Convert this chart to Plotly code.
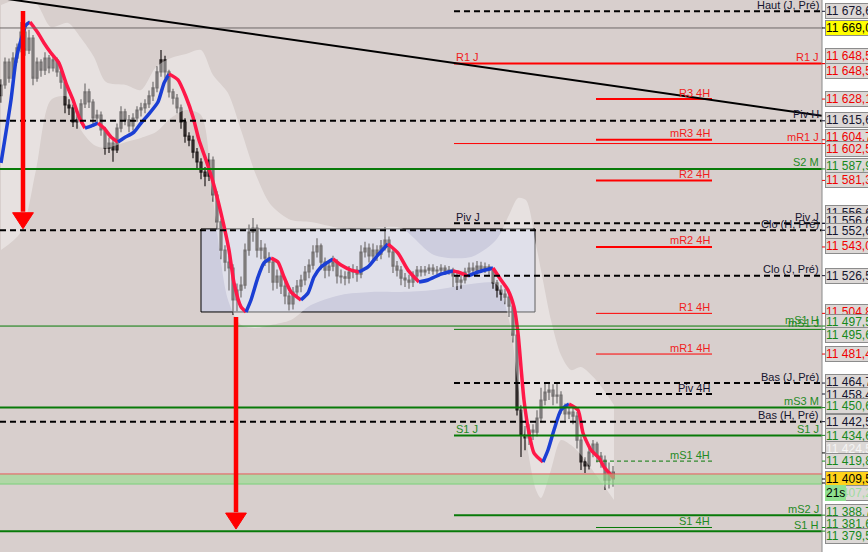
import plotly.graph_objects as go

# ---------------- data ----------------
closes = [11636.2, 11649.4, 11640.2, 11651.7, 11657.5, 11666.7, 11656.3, 11663.2, 11640.2, 11649.4,
          11644.8, 11651.7, 11646.0, 11650.6, 11643.7, 11637.9, 11624.7, 11623.0, 11614.9, 11616.1,
          11625.3, 11632.2, 11626.4, 11617.2, 11618.9, 11610.3, 11599.9, 11602.8, 11598.8, 11611.4,
          11620.7, 11616.1, 11612.6, 11617.2, 11621.8, 11623.0, 11625.3, 11629.9, 11634.5, 11643.7,
          11650.6, 11643.7, 11632.2, 11628.7, 11623.0, 11614.9, 11606.8, 11604.5, 11597.6, 11591.9,
          11586.1, 11583.8, 11593.0, 11572.9, 11557.4, 11541.2, 11534.3, 11530.9, 11512.5, 11518.2,
          11521.1, 11541.2, 11551.6, 11553.9, 11541.2, 11542.4, 11536.6, 11534.3, 11522.8, 11526.3,
          11520.5, 11514.8, 11510.2, 11517.1, 11520.5, 11524.0, 11528.6, 11532.6, 11540.1, 11543.6,
          11534.3, 11529.7, 11532.0, 11534.3, 11526.3, 11525.8, 11525.1, 11528.6, 11529.7, 11527.4,
          11540.1, 11542.4, 11537.8, 11541.2, 11538.9, 11543.6, 11547.0, 11540.1, 11532.0, 11529.7,
          11525.1, 11524.0, 11522.8, 11526.3, 11529.7, 11528.6, 11529.7, 11530.9, 11529.2, 11529.7,
          11530.9, 11529.2, 11529.7, 11526.3, 11522.8, 11524.0, 11528.6, 11530.9, 11529.7, 11532.0,
          11530.3, 11531.5, 11529.7, 11522.3, 11518.2, 11515.9, 11514.2, 11509.0, 11492.3, 11449.2,
          11434.8, 11433.1, 11437.7, 11436.5, 11444.6, 11454.9, 11459.5, 11460.7, 11457.2, 11457.8,
          11450.3, 11446.9, 11448.0, 11445.7, 11431.9, 11419.3, 11417.0, 11425.0, 11429.6, 11422.7,
          11420.4, 11408.9, 11413.5, 11409.5]

opens = [11630.0, 11636.2, 11649.4, 11640.2, 11651.7, 11657.5, 11666.7, 11656.3, 11663.2, 11640.2,
         11649.4, 11644.8, 11651.7, 11646.0, 11650.6, 11643.7, 11637.9, 11624.7, 11623.0, 11614.9,
         11616.1, 11625.3, 11632.2, 11626.4, 11617.2, 11618.9, 11610.3, 11599.9, 11602.8, 11598.8,
         11611.4, 11620.7, 11616.1, 11612.6, 11617.2, 11621.8, 11623.0, 11625.3, 11629.9, 11634.5,
         11643.7, 11650.6, 11643.7, 11632.2, 11628.7, 11623.0, 11614.9, 11606.8, 11604.5, 11597.6,
         11591.9, 11586.1, 11583.8, 11593.0, 11572.9, 11557.4, 11541.2, 11534.3, 11530.9, 11512.5,
         11518.2, 11521.1, 11541.2, 11551.6, 11553.9, 11541.2, 11542.4, 11536.6, 11534.3, 11522.8,
         11526.3, 11520.5, 11514.8, 11510.2, 11517.1, 11520.5, 11524.0, 11528.6, 11532.6, 11540.1,
         11543.6, 11534.3, 11529.7, 11532.0, 11534.3, 11526.3, 11525.8, 11525.1, 11528.6, 11529.7,
         11527.4, 11540.1, 11542.4, 11537.8, 11541.2, 11538.9, 11543.6, 11547.0, 11540.1, 11532.0,
         11529.7, 11525.1, 11524.0, 11522.8, 11526.3, 11529.7, 11528.6, 11529.7, 11530.9, 11529.2,
         11529.7, 11530.9, 11529.2, 11529.7, 11526.3, 11522.8, 11524.0, 11528.6, 11530.9, 11529.7,
         11532.0, 11530.3, 11531.5, 11529.7, 11522.3, 11518.2, 11515.9, 11514.2, 11509.0, 11492.3,
         11449.2, 11434.8, 11433.1, 11437.7, 11436.5, 11444.6, 11454.9, 11459.5, 11460.7, 11457.2,
         11457.8, 11450.3, 11446.9, 11448.0, 11445.7, 11431.9, 11419.3, 11417.0, 11425.0, 11429.6,
         11422.7, 11420.4, 11408.9, 11413.5]

highs = [11639.5, 11652.0, 11651.5, 11655.0, 11660.0, 11672.4, 11670.0, 11668.0, 11665.0, 11652.0,
         11651.0, 11655.0, 11653.5, 11653.0, 11652.0, 11646.0, 11640.0, 11628.0, 11625.0, 11619.0,
         11628.0, 11637.0, 11634.0, 11628.0, 11622.0, 11621.0, 11612.0, 11606.0, 11605.0, 11614.0,
         11624.0, 11622.5, 11619.0, 11620.0, 11624.0, 11626.0, 11628.0, 11633.0, 11638.0, 11647.0,
         11656.3, 11653.0, 11645.0, 11634.0, 11631.0, 11625.0, 11617.0, 11609.0, 11607.0, 11600.0,
         11594.0, 11589.0, 11597.0, 11595.0, 11575.0, 11559.0, 11544.0, 11538.0, 11533.0, 11522.0,
         11526.0, 11545.0, 11556.0, 11559.7, 11556.0, 11547.0, 11545.0, 11540.0, 11537.0, 11530.0,
         11529.0, 11523.0, 11517.0, 11520.0, 11524.0, 11527.0, 11532.0, 11536.0, 11544.0, 11548.0,
         11545.0, 11537.0, 11535.0, 11538.0, 11536.0, 11530.0, 11529.0, 11532.0, 11533.0, 11532.0,
         11544.0, 11546.0, 11545.0, 11545.0, 11544.0, 11547.0, 11554.5, 11549.0, 11542.0, 11535.0,
         11532.0, 11528.0, 11527.0, 11529.0, 11532.0, 11532.0, 11532.0, 11533.0, 11533.0, 11532.0,
         11533.0, 11532.5, 11532.0, 11531.0, 11528.0, 11527.0, 11531.0, 11534.0, 11534.0, 11535.0,
         11534.5, 11534.0, 11533.0, 11531.0, 11524.0, 11521.0, 11519.0, 11517.0, 11511.0, 11494.0,
         11452.0, 11440.0, 11441.0, 11441.0, 11449.0, 11462.0, 11465.3, 11465.3, 11464.0, 11465.0,
         11460.0, 11453.0, 11452.0, 11451.0, 11448.0, 11434.0, 11422.0, 11428.0, 11432.0, 11431.0,
         11425.0, 11423.0, 11419.0, 11417.0]

lows = [11626.0, 11634.0, 11637.5, 11638.0, 11649.0, 11655.0, 11653.0, 11654.0, 11636.0, 11638.0,
        11641.0, 11642.0, 11643.0, 11644.0, 11641.0, 11634.0, 11620.0, 11619.0, 11612.0, 11611.0,
        11614.0, 11623.0, 11623.0, 11612.0, 11614.0, 11607.0, 11596.0, 11597.0, 11592.0, 11597.0,
        11609.0, 11613.0, 11609.0, 11610.0, 11615.0, 11618.0, 11620.0, 11623.0, 11627.0, 11632.0,
        11641.0, 11640.0, 11629.0, 11625.0, 11620.0, 11611.0, 11603.0, 11601.0, 11594.0, 11588.0,
        11582.0, 11578.0, 11581.0, 11569.0, 11553.0, 11536.0, 11529.0, 11518.0, 11503.9, 11506.0,
        11514.0, 11519.0, 11538.0, 11546.0, 11537.0, 11536.0, 11532.0, 11528.0, 11518.0, 11519.0,
        11516.0, 11510.0, 11506.5, 11507.0, 11514.0, 11517.0, 11521.0, 11525.0, 11530.0, 11537.0,
        11530.0, 11525.0, 11526.0, 11529.0, 11522.0, 11522.0, 11521.0, 11522.0, 11525.0, 11523.0,
        11525.0, 11537.0, 11534.0, 11535.0, 11535.0, 11536.0, 11541.0, 11537.0, 11528.0, 11526.0,
        11521.0, 11520.0, 11519.0, 11520.0, 11524.0, 11526.0, 11526.5, 11527.5, 11527.0, 11527.0,
        11528.0, 11527.0, 11527.0, 11520.0, 11518.2, 11519.0, 11522.0, 11526.0, 11527.0, 11527.0,
        11528.0, 11528.0, 11527.0, 11519.0, 11514.0, 11512.0, 11510.0, 11502.7, 11488.0, 11446.0,
        11422.1, 11426.0, 11429.0, 11432.0, 11434.0, 11442.0, 11452.0, 11455.0, 11452.0, 11453.0,
        11447.0, 11443.0, 11444.0, 11441.0, 11427.0, 11414.7, 11413.0, 11415.0, 11422.0, 11419.0,
        11416.0, 11403.2, 11404.0, 11405.0]

# smoothed moving average (bar index, price)
ma_bars = [0, 2.5, 3.75, 5, 6.25, 7.25, 9.25, 10.75, 12.5, 14.5, 16.25, 18, 19.5, 21, 22.5, 24.25,
           25.75, 27.5, 29.25, 30.75, 33.25, 35, 36.75, 39.25, 40.75, 42, 44.25, 46.25, 48, 49.5,
           51.25, 53, 55, 57, 58.25, 60, 61.25, 62.5, 64.25, 65.75, 67.5, 69.25, 70.75, 72.5, 75,
           76.75, 78.25, 80, 81.75, 83, 85, 87.5, 89.5, 91.75, 94.25, 96.75, 99.25, 101.75, 104.5,
           106.75, 110, 113, 114.25, 116.75, 119.25, 123, 125, 126.75, 128.25, 129.25, 130, 130.75,
           132, 133.25, 135.5, 136.75, 138.25, 140, 142, 144.25, 145.5, 147.5, 149.5, 150.75, 152.5,
           153.25]
ma_values = [11591.3, 11627.6, 11650.6, 11662.1, 11670.7, 11672.4, 11666.1, 11660.4, 11654.6, 11648.8,
             11637.3, 11627.6, 11617.8, 11611.4, 11612.6, 11614.3, 11611.4, 11606.3, 11603.4, 11605.7,
             11609.1, 11614.3, 11618.9, 11626.4, 11637.3, 11642.5, 11639.1, 11629.3, 11617.8, 11604.5,
             11593.0, 11580.4, 11562.5, 11541.2, 11522.3, 11508.5, 11505.6, 11512.5, 11525.7, 11533.8,
             11536.6, 11534.3, 11525.7, 11517.1, 11512.5, 11516.5, 11525.7, 11531.5, 11534.3, 11536.1,
             11532.6, 11529.7, 11528.6, 11531.5, 11538.4, 11544.7, 11539.5, 11529.7, 11522.8, 11524.0,
             11527.4, 11529.2, 11528.6, 11526.3, 11528.6, 11530.9, 11524.0, 11518.2, 11508.5, 11493.5,
             11473.9, 11454.9, 11436.0, 11424.4, 11419.3, 11426.2, 11437.7, 11449.2, 11452.6, 11449.2,
             11436.0, 11426.2, 11421.6, 11416.4, 11411.8, 11410.1]

# volatility envelope
env_bars = [0, 5, 8.75, 12.5, 16.75, 20, 23.25, 26.25, 31.25, 35, 38.75, 42.5, 46.25, 50, 53, 56.75,
            60, 63.75, 67.5, 72.5, 77.5, 85, 92.5, 100, 108.25, 117.5, 123.75, 127, 129.25, 131.25,
            133.75, 135, 137.5, 140, 142.5, 145, 148.75, 153.25]
env_upper = [11682.2, 11686.0, 11683.4, 11669.6, 11671.9, 11663.2, 11652.3, 11637.9, 11636.2, 11633.3,
             11646.5, 11651.7, 11654.0, 11656.3, 11642.0, 11631.6, 11610.3, 11584.4, 11567.1, 11558.5,
             11557.4, 11553.9, 11553.9, 11553.9, 11538.4, 11537.2, 11547.0, 11561.4, 11571.2, 11570.0,
             11544.1, 11529.7, 11501.0, 11480.8, 11472.2, 11473.9, 11466.5, 11452.1]
env_lower = [11541.2, 11551.6, 11587.3, 11627.6, 11629.3, 11610.3, 11601.7, 11600.0, 11603.4, 11605.7,
             11609.1, 11617.2, 11621.8, 11618.9, 11570.0, 11512.5, 11498.1, 11496.4, 11498.1, 11501.0,
             11509.6, 11515.4, 11517.1, 11517.1, 11518.2, 11521.7, 11521.7, 11501.0, 11463.6, 11431.9,
             11403.2, 11398.6, 11414.7, 11431.9, 11429.0, 11423.3, 11411.8, 11397.4]

# pivot / support / resistance levels
level_names = ["Haut (J, Pré)", "R1 J", "R3 4H", "Piv H", "mR3 4H", "mR1 J", "S2 M", "R2 4H",
               "Piv J", "Clo (H, Pré)", "mR2 4H", "Clo (J, Pré)", "R1 4H", "mS1 H", "mS1 J",
               "mR1 4H", "Bas (J, Pré)", "Piv 4H", "mS3 M", "Bas (H, Pré)", "S1 J", "mS1 4H",
               "mS2 J", "S1 4H", "S1 H"]
level_prices = [11678.6, 11648.5, 11628.1, 11615.6, 11604.7, 11602.5, 11587.9, 11581.3,
                11556.6, 11552.6, 11543.0, 11526.5, 11504.8, 11497.5, 11495.6,
                11481.4, 11464.7, 11458.4, 11450.6, 11442.5, 11434.6, 11419.8,
                11388.7, 11381.6, 11379.5]
level_scopes = ["J", "J", "4H", "H", "4H", "J", "H", "4H",
                "J", "H", "4H", "J", "4H", "H", "J",
                "4H", "J", "4H", "H", "H", "J", "4H",
                "J", "4H", "H"]
left_labelled = ["R1 J", "Piv J", "S1 J"]

session_high = 11669.0
ask_price = 11412.4
bid_band_low = 11406.6
last_price = 11409.5
countdown = "21s"

# price-axis labels (price, colour key), drawn top to bottom
axis_label_prices = [11678.6, 11669.0, 11648.5, 11648.5, 11628.1, 11615.6, 11604.7, 11602.5, 11587.9,
                     11581.3, 11556.6, 11556.6, 11552.6, 11543.0, 11526.5, 11504.8, 11497.5, 11495.6,
                     11481.4, 11464.7, 11458.4, 11450.6, 11442.5, 11434.6, 11424.5, 11419.8, 11409.5,
                     11407.2, 11388.7, 11381.6, 11379.5]
axis_label_kinds = ["k", "hi", "r", "r", "r", "k", "r", "r", "g",
                    "r", "k", "k", "k", "r", "k", "r", "g", "g",
                    "r", "k", "k", "g", "k", "g", "w", "g", "last",
                    "lg", "g", "g", "g"]

# drawings
trend_bars = [-0.25, 205.25]
trend_prices = [11686.3, 11618.5]
box_bars = [50.0, 133.5]
box_prices = [11505.6, 11553.4]
arrow_bars = [5.5, 58.75]
arrow_tops = [11678.8, 11502.7]
arrow_tips = [11553.5, 11380.7]

# ---------------- styling / layout constants ----------------
X_RANGE = [-0.25, 205.25]
Y_RANGE = [11367.5, 11685.1]
PLOT_W, PLOT_H = 822, 552
PX_PER_PT = PLOT_H / (Y_RANGE[1] - Y_RANGE[0])
SCOPE_X = {"H": (-0.25, 205.25), "J": (113.25, 205.25), "4H": (148.75, 177.75)}
FONT = "Liberation Sans"
RED, GREEN, BLACK = "#ff0000", "#087a08", "#000000"
RED_T, GREEN_T, BLACK_T = "#f01c1c", "#1f8a1f", "#14142e"

line_style = {
    "Haut (J, Pré)": (BLACK, 2, "6px,4px"), "R1 J": (RED, 2, "solid"), "R3 4H": (RED, 2, "solid"),
    "Piv H": (BLACK, 2, "6px,4px"), "mR3 4H": (RED, 2, "solid"), "mR1 J": (RED, 1, "solid"),
    "S2 M": (GREEN, 2, "solid"), "R2 4H": (RED, 2, "solid"), "Piv J": (BLACK, 2, "6px,4px"),
    "Clo (H, Pré)": (BLACK, 2, "6px,4px"), "mR2 4H": (RED, 2, "solid"),
    "Clo (J, Pré)": (BLACK, 2, "6px,4px"), "R1 4H": (RED, 1, "solid"), "mS1 H": (GREEN, 1, "solid"),
    "mS1 J": (GREEN, 1, "solid"), "mR1 4H": (RED, 1, "solid"), "Bas (J, Pré)": (BLACK, 2, "6px,4px"),
    "Piv 4H": (BLACK, 2, "6px,4px"), "mS3 M": (GREEN, 2, "solid"), "Bas (H, Pré)": (BLACK, 2, "6px,4px"),
    "S1 J": (GREEN, 2, "solid"), "mS1 4H": (GREEN, 1, "4px,3px"), "mS2 J": (GREEN, 2, "solid"),
    "S1 4H": (GREEN, 1, "solid"), "S1 H": (GREEN, 2, "solid"),
}
text_color = {RED: RED_T, GREEN: GREEN_T, BLACK: BLACK_T}

# pixel offsets of stacked price-axis labels (layout only)
axis_label_offsets = [0, 0, 8, -7, 0, 1, 3, -5, 3,
                      0, 10, 2, -1, 1, 0, 1, 4, -6,
                      0, 1, -1, 2, 0, -1, 4, 0, 0,
                      -10, 3, 3, -5]
kind_style = {
    "k": ("#dcd8d6", BLACK_T), "r": ("#dcd8d6", "#f00000"), "g": ("#dcd8d6", "#16881a"),
    "w": ("#dcd8d6", "#f4f4f4"), "lg": ("#dcd8d6", "#9edc9e"),
    "hi": ("#ffff00", "#000000"), "last": ("#ffd21a", "#000000"),
}
LABEL_YSHIFT = -1.5

fig = go.Figure()

# envelope
fig.add_trace(go.Scatter(x=env_bars, y=env_upper, mode="lines",
                         line=dict(width=0, shape="spline", smoothing=0.8), hoverinfo="skip"))
fig.add_trace(go.Scatter(x=env_bars, y=env_lower, mode="lines",
                         line=dict(width=0, shape="spline", smoothing=0.8), fill="tonexty",
                         fillcolor="rgba(255,255,255,0.38)", hoverinfo="skip"))

# candles
bars = list(range(len(closes)))
fig.add_trace(go.Candlestick(
    x=bars, open=opens, high=highs, low=lows, close=closes,
    increasing=dict(line=dict(color="#1e1919", width=1.2), fillcolor="#4e4646"),
    decreasing=dict(line=dict(color="#1e1919", width=1.2), fillcolor="#4e4646"),
    whiskerwidth=0, hoverinfo="skip"))

# moving average coloured by direction
segments = []
cur = [0]
cur_up = None
for i in range(1, len(ma_values)):
    up = ma_values[i] >= ma_values[i - 1]
    if cur_up is None or up == cur_up:
        cur.append(i)
        cur_up = up
    else:
        segments.append((cur_up, cur))
        cur = [i - 1, i]
        cur_up = up
segments.append((cur_up, cur))
for up, idx in segments:
    fig.add_trace(go.Scatter(
        x=[ma_bars[i] for i in idx], y=[ma_values[i] for i in idx], mode="lines",
        line=dict(color="#1b3fd4" if up else "#ff1848", width=3.5, shape="spline", smoothing=0.6),
        hoverinfo="skip"))

shapes = []
annotations = []

# rectangle (range box)
shapes.append(dict(type="rect", xref="x", yref="y", x0=box_bars[0], x1=box_bars[1],
                   y0=box_prices[0], y1=box_prices[1], layer="below",
                   fillcolor="rgba(196,204,236,0.55)", line=dict(color="#000000", width=1)))

# session high / ask line / bid band
shapes.append(dict(type="line", xref="paper", yref="y", x0=0, x1=1, y0=session_high, y1=session_high,
                   line=dict(color="#6e6868", width=1)))
shapes.append(dict(type="rect", xref="paper", yref="y", x0=0, x1=1, y0=bid_band_low, y1=ask_price,
                   fillcolor="rgba(150,220,140,0.6)", line=dict(width=0)))
shapes.append(dict(type="line", xref="paper", yref="y", x0=0, x1=1, y0=ask_price, y1=ask_price,
                   line=dict(color="#e85a5a", width=1)))
shapes.append(dict(type="line", xref="paper", yref="y", x0=0, x1=1, y0=bid_band_low, y1=bid_band_low,
                   line=dict(color="#7ad07a", width=1)))

# levels
for name, price, scope in zip(level_names, level_prices, level_scopes):
    col, w, dash = line_style[name]
    x0, x1 = SCOPE_X[scope]
    shapes.append(dict(type="line", xref="x", yref="y", x0=x0, x1=x1, y0=price, y1=price,
                       line=dict(color=col, width=w, dash=dash)))
    tcol = text_color[col]
    if scope == "4H":
        annotations.append(dict(x=x1, y=price, xref="x", yref="y", xanchor="right", yanchor="bottom",
                                yshift=LABEL_YSHIFT, text=name, showarrow=False,
                                font=dict(family=FONT, size=11, color=tcol)))
    else:
        annotations.append(dict(x=1, y=price, xref="paper", yref="y", xanchor="right", yanchor="bottom",
                                xshift=-1, yshift=LABEL_YSHIFT, text=name, showarrow=False,
                                font=dict(family=FONT, size=11, color=tcol)))
        if name in left_labelled:
            annotations.append(dict(x=x0, y=price, xref="x", yref="y", xanchor="left", yanchor="bottom",
                                    yshift=LABEL_YSHIFT, text=name, showarrow=False,
                                    font=dict(family=FONT, size=11, color=tcol)))

# trend line
shapes.append(dict(type="line", xref="x", yref="y", x0=trend_bars[0], x1=trend_bars[1],
                   y0=trend_prices[0], y1=trend_prices[1], line=dict(color="#000000", width=2)))

# red arrows
HEAD_H_PX, HEAD_HALF_W_BARS = 16, 2.6
for bx, top, tip in zip(arrow_bars, arrow_tops, arrow_tips):
    base = tip + HEAD_H_PX / PX_PER_PT
    shapes.append(dict(type="line", xref="x", yref="y", x0=bx, x1=bx, y0=top, y1=base + 0.5,
                       line=dict(color="#ff0000", width=4.5)))
    shapes.append(dict(type="path", xref="x", yref="y",
                       path=f"M {bx - HEAD_HALF_W_BARS},{base} L {bx + HEAD_HALF_W_BARS},{base} L {bx},{tip} Z",
                       fillcolor="#ff0000", line=dict(color="#ff0000", width=1)))

# right price axis
shapes.append(dict(type="line", xref="paper", yref="paper", x0=1, x1=1, y0=0, y1=1,
                   line=dict(color="#8a8a8a", width=1)))


def fmt(p):
    return f"{p:,.1f}".replace(",", " ").replace(".", ",")


for price, kind, off in zip(axis_label_prices, axis_label_kinds, axis_label_offsets):
    bg, fc = kind_style[kind]
    shapes.append(dict(type="line", xref="paper", yref="y", x0=1, x1=1 + 4 / PLOT_W, y0=price, y1=price,
                       line=dict(color=fc if kind not in ("hi", "last", "w", "lg") else "#000000", width=1)))
    annotations.append(dict(x=1, y=price, xref="paper", yref="y", xanchor="left", yanchor="middle",
                            xshift=3, yshift=off, text=fmt(price), showarrow=False, align="left",
                            width=50, bgcolor=bg, bordercolor="#8c8c8c", borderwidth=1, borderpad=0,
                            font=dict(family=FONT, size=12, color=fc)))
    if kind == "lg":
        annotations.append(dict(x=1, y=price, xref="paper", yref="y", xanchor="left", yanchor="middle",
                                xshift=3, yshift=off, text=countdown, showarrow=False, align="left",
                                bgcolor="#8fe08f", borderwidth=0, borderpad=1,
                                font=dict(family=FONT, size=12, color="#000000")))

fig.update_layout(
    width=868, height=552,
    margin=dict(l=0, r=868 - PLOT_W, t=0, b=0, autoexpand=False),
    paper_bgcolor="#ffffff", plot_bgcolor="#d8cfcd",
    showlegend=False, hovermode=False,
    shapes=shapes, annotations=annotations,
    xaxis=dict(range=X_RANGE, visible=False, rangeslider=dict(visible=False), fixedrange=True),
    yaxis=dict(range=Y_RANGE, visible=False, fixedrange=True),
)

fig.write_html("out.html", config={"displayModeBar": False},
               post_script="document.body.style.margin='0px';document.body.style.overflow='hidden';")
